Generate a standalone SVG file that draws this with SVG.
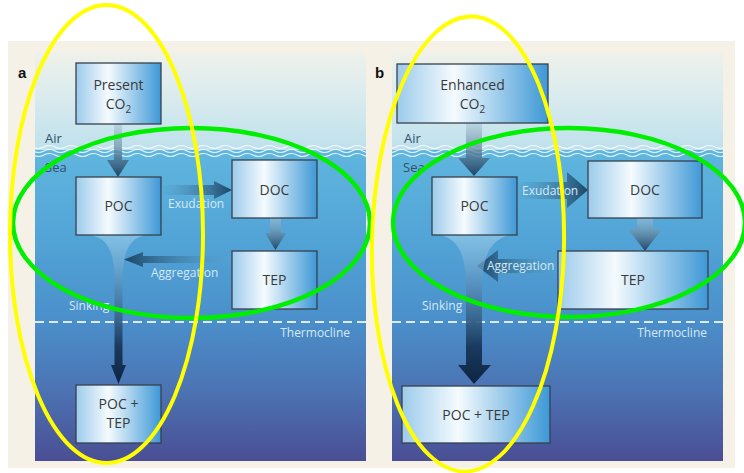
<svg xmlns="http://www.w3.org/2000/svg" width="744" height="473" viewBox="0 0 744 473">
<style>
.box{fill:url(#boxG);stroke:#37414d;stroke-width:1.3}
.bt{font-family:"Open Sans","Liberation Sans",sans-serif;font-size:14px;fill:#3a3a3a;text-anchor:middle}
.lbl{font-family:"Open Sans","Liberation Sans",sans-serif;font-size:12px;fill:#d5e9f5}
.as{font-family:"Open Sans","Liberation Sans",sans-serif;font-size:13px;fill:#33506a}
.pl{font-family:"Liberation Sans",sans-serif;font-weight:bold;font-size:15px;fill:#111}
.thermo{stroke:#eef4f8;stroke-width:2;stroke-dasharray:9 5;opacity:0.9}
.ey{fill:none;stroke:#ffff00;stroke-width:4}
.eg{fill:none;stroke:#00ee00;stroke-width:4.5}
</style>
<defs>
<linearGradient id="boxG" x1="0" y1="0" x2="1" y2="0">
<stop offset="0" stop-color="#9ccbeb"/>
<stop offset="0.38" stop-color="#f5fbfe"/>
<stop offset="1" stop-color="#3d98d6"/>
</linearGradient>
<linearGradient id="airG" x1="0" y1="0" x2="0" y2="1">
<stop offset="0" stop-color="#f0f1ea"/>
<stop offset="0.4" stop-color="#dcecee"/>
<stop offset="1" stop-color="#bde0ec"/>
</linearGradient>
<linearGradient id="seaG" x1="0" y1="0" x2="0" y2="1">
<stop offset="0" stop-color="#5fb6de"/>
<stop offset="0.3" stop-color="#51a3d6"/>
<stop offset="0.55" stop-color="#4a8fca"/>
<stop offset="0.78" stop-color="#4c72b2"/>
<stop offset="1" stop-color="#4a4e94"/>
</linearGradient>
<linearGradient id="gV" x1="0" y1="0" x2="0" y2="1">
<stop offset="0" stop-color="#a9c4d6" stop-opacity="0.5"/>
<stop offset="1" stop-color="#1c4566"/>
</linearGradient>
<linearGradient id="gR" x1="0" y1="0" x2="1" y2="0">
<stop offset="0" stop-color="#5aa8d2" stop-opacity="0.3"/>
<stop offset="1" stop-color="#1c4566"/>
</linearGradient>
<linearGradient id="gL" x1="1" y1="0" x2="0" y2="0">
<stop offset="0" stop-color="#5aa8d2" stop-opacity="0.2"/>
<stop offset="1" stop-color="#1c4566"/>
</linearGradient>
<linearGradient id="gS" x1="0" y1="0" x2="0" y2="1">
<stop offset="0" stop-color="#a6d4ee" stop-opacity="0.55"/>
<stop offset="0.3" stop-color="#5e95c0" stop-opacity="0.75"/>
<stop offset="0.75" stop-color="#193a5e"/>
<stop offset="1" stop-color="#0e2442"/>
</linearGradient>
<pattern id="waves" patternUnits="userSpaceOnUse" x="0" y="143" width="22" height="16">
<path d="M0,4 q5.5,-3 11,0 t11,0 M0,8 q5.5,-3 11,0 t11,0 M0,12 q5.5,-3 11,0 t11,0" fill="none" stroke="#ffffff" stroke-width="1.2" stroke-opacity="0.85"/>
</pattern>
</defs>

<rect x="0" y="0" width="744" height="473" fill="#ffffff"/>
<rect x="8" y="41" width="727" height="427" fill="#f5f1e7"/>

<g id="panel-a-bg">
<rect x="35" y="52" width="331" height="100" fill="url(#airG)"/>
<rect x="35" y="150" width="331" height="311" fill="url(#seaG)"/>
<rect x="35" y="143" width="331" height="16" fill="url(#waves)"/>
<line class="thermo" x1="35" y1="322" x2="366" y2="322"/>
<text class="pl" x="18" y="78">a</text>
<text class="as" x="45" y="143">Air</text>
<text class="as" x="45" y="172">Sea</text>
<text class="lbl" x="350" y="337" text-anchor="end">Thermocline</text>
</g>

<g id="panel-b-bg">
<rect x="392" y="52" width="331" height="100" fill="url(#airG)"/>
<rect x="392" y="150" width="331" height="311" fill="url(#seaG)"/>
<rect x="392" y="143" width="331" height="16" fill="url(#waves)"/>
<line class="thermo" x1="392" y1="322" x2="723" y2="322"/>
<text class="pl" x="375" y="78">b</text>
<text class="as" x="404" y="143">Air</text>
<text class="as" x="403" y="172">Sea</text>
<text class="lbl" x="707" y="337" text-anchor="end">Thermocline</text>
</g>

<g id="connectors">
<polygon points="114,124 122,124 122,160 129,160 118,177 107,160 114,160" fill="url(#gV)"/>
<polygon points="163,185 214,185 214,181 232,190 214,199 214,195 163,195" fill="url(#gR)"/>
<polygon points="270,218 281,218 281,233 286,233 275.5,250 265,233 270,233" fill="url(#gV)"/>
<polygon points="232,256 143,256 143,252 124,259.5 143,267 143,263 232,263" fill="url(#gL)"/>
<path d="M90,235 C108,238 114,252 114.5,278 L114.5,365 L111,365 L118.5,384 L126,365 L122.5,365 L122.5,278 C123,252 129,238 146,235 Z" fill="url(#gS)"/>
<text class="lbl" x="168" y="208">Exudation</text>
<text class="lbl" x="151" y="277">Aggregation</text>
<text class="lbl" x="69" y="310">Sinking</text>

<polygon points="466,123 482,123 482,158 490,158 474,176 458,158 466,158" fill="url(#gV)"/>
<polygon points="517,182 567,182 567,172 588,190 567,208 567,199 517,199" fill="url(#gR)"/>
<polygon points="637,218 653,218 653,229 662,229 645,251 628,229 637,229" fill="url(#gV)"/>
<polygon points="558,259 498,259 498,250 477,266 498,282 498,273 558,273" fill="url(#gL)"/>
<path d="M440,235 C462,240 466,260 466,292 L466,365 L458,365 L474,384 L491,365 L482,365 L482,292 C482,260 488,240 510,235 Z" fill="url(#gS)"/>
<text class="lbl" x="522" y="195">Exudation</text>
<text class="lbl" x="487" y="270">Aggregation</text>
<text class="lbl" x="422" y="322" dy="-12">Sinking</text>
</g>

<g id="a-present-co2">
<rect class="box" x="76" y="63" width="85" height="61"/>
<text class="bt" x="118.5" y="90">Present</text>
<text class="bt" x="118.5" y="109">CO<tspan dy="4" font-size="10">2</tspan></text>
</g>
<g id="a-poc">
<rect class="box" x="76" y="177" width="85" height="58"/>
<text class="bt" x="118.5" y="211">POC</text>
</g>
<g id="a-doc">
<rect class="box" x="232" y="160" width="85" height="58"/>
<text class="bt" x="274.5" y="195">DOC</text>
</g>
<g id="a-tep">
<rect class="box" x="232" y="251" width="85" height="58"/>
<text class="bt" x="274.5" y="285">TEP</text>
</g>
<g id="a-poc-tep">
<rect class="box" x="76" y="385" width="85" height="58"/>
<text class="bt" x="118.5" y="409">POC +</text>
<text class="bt" x="118.5" y="428">TEP</text>
</g>

<g id="b-enhanced-co2">
<rect class="box" x="397" y="64" width="151" height="59"/>
<text class="bt" x="472.5" y="90">Enhanced</text>
<text class="bt" x="472.5" y="109">CO<tspan dy="4" font-size="10">2</tspan></text>
</g>
<g id="b-poc">
<rect class="box" x="432" y="177" width="85" height="58"/>
<text class="bt" x="474.5" y="211">POC</text>
</g>
<g id="b-doc">
<rect class="box" x="588" y="161" width="114" height="57"/>
<text class="bt" x="645" y="195">DOC</text>
</g>
<g id="b-tep">
<rect class="box" x="558" y="251" width="150" height="58"/>
<text class="bt" x="633" y="285">TEP</text>
</g>
<g id="b-poc-tep">
<rect class="box" x="402" y="386" width="148" height="57"/>
<text class="bt" x="476" y="420">POC + TEP</text>
</g>

<g id="highlights">
<ellipse class="eg" cx="191.5" cy="223" rx="178.5" ry="95"/>
<ellipse class="eg" cx="569" cy="222.5" rx="176" ry="94.5"/>
<ellipse class="ey" cx="106.5" cy="234" rx="96.5" ry="229"/>
<ellipse class="ey" cx="468" cy="244" rx="96" ry="227.5" transform="rotate(1 468 244)"/>
</g>
</svg>
